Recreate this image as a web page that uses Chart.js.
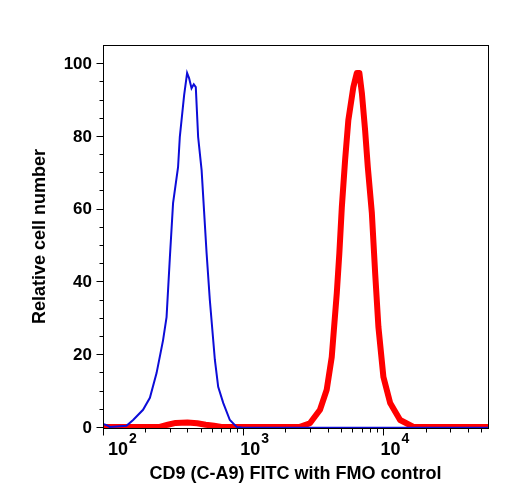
<!DOCTYPE html>
<html>
<head>
<meta charset="utf-8">
<script src="https://cdn.jsdelivr.net/npm/chart.js@4/dist/chart.umd.min.js"></script>
<style>
  html, body { margin: 0; padding: 0; background: #fff; }
  #wrap { width: 508px; height: 500px; }
</style>
</head>
<body>
<div id="wrap"><canvas id="histChart"></canvas></div>
<script>
// FMO control (blue, thin)
const blueX = [100, 106, 112, 147, 164, 193, 216, 241, 268, 284, 300, 316, 343, 353, 379, 398, 411, 428, 444, 459, 477, 505, 548, 578, 628, 663, 720, 803, 897, 1000, 55700];
const blueY = [0.8, 0.5, 0, 0.3, 1.9, 4.7, 8.0, 14.8, 23.8, 30.2, 46.7, 61.5, 71.4, 79.7, 91.2, 97.3, 95.9, 93.1, 94.2, 93.4, 79.7, 70.6, 47.8, 34.9, 18.4, 11.0, 6.6, 1.9, 0, -0.2, -0.2];

// CD9 (C-A9) FITC (red, thick)
const redX = [100, 254, 290, 330, 400, 470, 540, 620, 700, 2540, 2990, 3530, 3940, 4280, 4650, 4850, 5050, 5330, 5620, 6100, 6460, 6740, 7020, 7400, 7740, 8270, 8730, 9210, 10000, 11170, 13150, 16370, 55700];
const redY = [0, 0, 0.6, 1.1, 1.2, 1.0, 0.6, 0.3, 0, 0, 1.0, 4.7, 10.2, 19.2, 36.8, 47.8, 60.4, 73.4, 84.3, 93.4, 97.3, 97.3, 91.8, 81.6, 71.4, 58.8, 42.3, 27.5, 13.7, 6.6, 1.9, 0, 0];

const xTickValues = [100, 1000, 10000];
const xTickExponents = ['2', '3', '4'];
const yTickValues = [0, 20, 40, 60, 80, 100];

const xTitle = 'CD9 (C-A9) FITC with FMO control';
const yTitle = 'Relative cell number';

const FONT = '"Liberation Sans", Arial, Helvetica, sans-serif';

function toPoints(xs, ys) {
  return xs.map((x, i) => ({ x: x, y: ys[i] }));
}

// frame, ticks and labels drawn by hand (FlowJo style)
const axesPlugin = {
  id: 'flowAxes',
  afterDraw(chart) {
    const c = chart.ctx;
    const area = chart.chartArea;
    const xs = chart.scales.x;
    const ys = chart.scales.y;
    c.save();
    c.strokeStyle = '#000';
    c.lineWidth = 1;
    c.strokeRect(Math.round(area.left) + 0.5, Math.round(area.top) + 0.5,
      Math.round(area.right - area.left), Math.round(area.bottom - area.top));

    const bottom = Math.round(area.bottom) + 0.5;
    const left = Math.round(area.left) + 0.5;

    // x ticks: majors at decades, minors at 2..9
    c.beginPath();
    for (let d = 100; d <= 10000; d *= 10) {
      for (let m = 1; m <= 9; m++) {
        const v = d * m;
        if (v > xs.max) break;
        const px = Math.round(xs.getPixelForValue(v)) + 0.5;
        const len = m === 1 ? 7 : 4;
        c.moveTo(px, bottom);
        c.lineTo(px, bottom + len);
      }
    }
    // y ticks: majors every 20, minors every 5
    for (let v = 0; v <= 100; v += 5) {
      const py = Math.round(ys.getPixelForValue(v)) + 0.5;
      const len = v % 20 === 0 ? 7 : 4;
      c.moveTo(left, py);
      c.lineTo(left - len, py);
    }
    c.stroke();

    // y tick labels
    c.fillStyle = '#000';
    c.font = 'bold 17px ' + FONT;
    c.textAlign = 'right';
    c.textBaseline = 'middle';
    yTickValues.forEach(v => {
      c.fillText(String(v), area.left - 11, ys.getPixelForValue(v) + 1);
    });

    // x tick labels: 10 with raised exponent
    c.textAlign = 'left';
    c.textBaseline = 'alphabetic';
    xTickValues.forEach((v, i) => {
      const px = xs.getPixelForValue(v);
      const x0 = Math.max(px - 3, area.left + 5);
      c.font = 'bold 18px ' + FONT;
      c.fillText('10', x0, 455);
      const w = c.measureText('10').width;
      c.font = 'bold 14px ' + FONT;
      c.fillText(xTickExponents[i], x0 + w + 1, 443);
    });

    // axis titles
    c.font = 'bold 18px ' + FONT;
    c.textAlign = 'center';
    c.fillText(xTitle, (area.left + area.right) / 2, 479);

    c.translate(40, (area.top + area.bottom) / 2);
    c.rotate(-Math.PI / 2);
    c.textBaseline = 'middle';
    c.fillText(yTitle, 0, 0);
    c.restore();
  }
};

const ctx = document.getElementById('histChart').getContext('2d');
new Chart(ctx, {
  type: 'line',
  data: {
    datasets: [
      {
        label: 'FMO control',
        data: toPoints(blueX, blueY),
        borderColor: '#0c0cd8',
        borderWidth: 2,
        pointRadius: 0,
        tension: 0,
        fill: false
      },
      {
        label: 'CD9 (C-A9) FITC',
        data: toPoints(redX, redY),
        borderColor: '#ff0000',
        borderWidth: 6,
        borderJoinStyle: 'round',
        borderCapStyle: 'round',
        pointRadius: 0,
        tension: 0,
        fill: false
      }
    ]
  },
  options: {
    responsive: true,
    maintainAspectRatio: false,
    animation: false,
    layout: { padding: { left: 103, right: 20, top: 45, bottom: 72 } },
    plugins: {
      legend: { display: false },
      tooltip: { enabled: false }
    },
    scales: {
      x: { type: 'logarithmic', min: 100, max: 55700, display: false },
      y: { type: 'linear', min: -0.3, max: 105, display: false }
    }
  },
  plugins: [axesPlugin]
});
</script>
</body>
</html>
